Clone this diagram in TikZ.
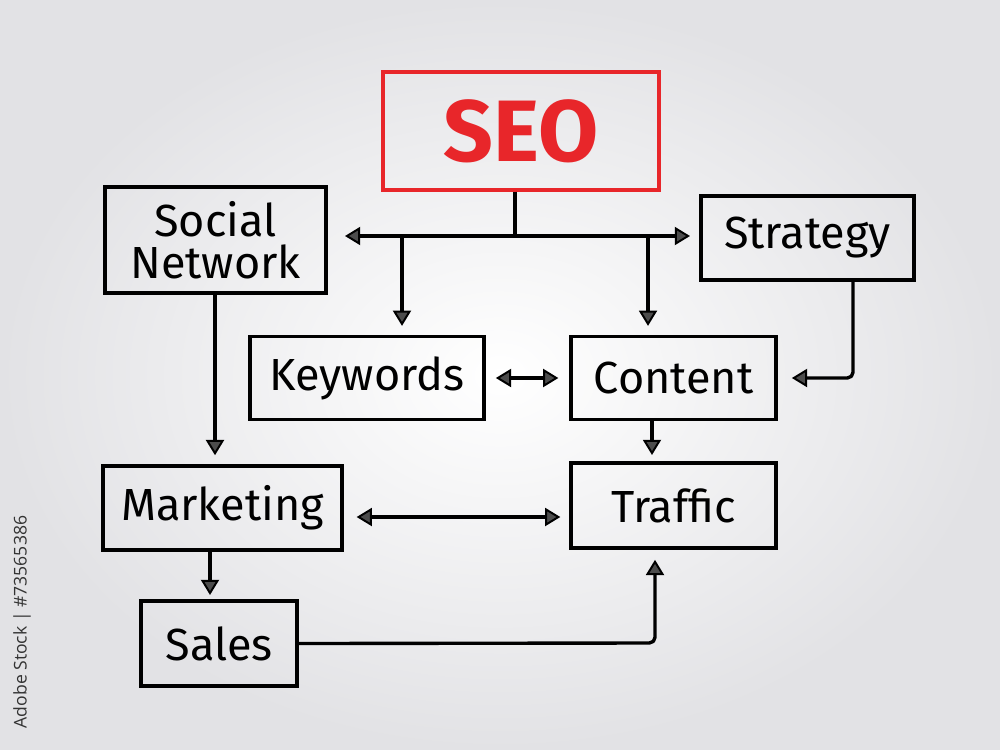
\documentclass[tikz,border=0pt]{standalone}
\usepackage{fontspec}
\setmainfont{Fira Sans}
\newfontfamily\stockfont{Open Sans}
\usetikzlibrary{arrows.meta}
\definecolor{seored}{HTML}{E8262A}
\definecolor{bggray}{HTML}{E2E2E5}
\tikzset{
    box/.style={draw=black, line width=2.6pt, inner sep=0pt, align=center,
        font=\fontsize{32}{34}\selectfont},
    seobox/.style={draw=seored, line width=2.2pt, inner sep=0pt, text=seored,
        font=\bfseries\fontsize{62}{64}\selectfont},
    link/.style={line width=2.4pt, line join=round},
    >={Triangle[length=0.38cm,width=0.45cm,fill=black!70,line width=1.4pt]}
}

\begin{document}
\begin{tikzpicture}[x=0.025cm,y=-0.025cm]
            \useasboundingbox (0,0) rectangle (1000,750);
            \shade[inner color=white, outer color=bggray] (0,0) rectangle (1000,750);

            % boxes
            \node[seobox, minimum width=6.9cm, minimum height=2.95cm] (seo) at (521,131) {SEO};
            \node[box, minimum width=5.525cm, minimum height=2.65cm] (social) at (215.5,240) {Social\\[-4pt]Network};
            \node[box, minimum width=5.325cm, minimum height=2.1cm] (strategy) at (807.5,238) {Strategy};
            \node[box, minimum width=5.85cm, minimum height=2.075cm] (keywords) at (367,378) {Keywords};
            \node[box, minimum width=5.125cm, minimum height=2.075cm] (content) at (673.5,378) {Content};
            \node[box, minimum width=5.975cm, minimum height=2.1cm] (marketing) at (222.5,508) {Marketing};
            \node[box, minimum width=5.125cm, minimum height=2.125cm] (traffic) at (673.5,505.5) {Traffic};
            \node[box, minimum width=3.9cm, minimum height=2.125cm] (sales) at (219,643.5) {Sales};

            % turning points
            \coordinate (hub) at (515,236);
            \coordinate (hubl) at (345,236);
            \coordinate (hubr) at (690,236);
            \coordinate (kw) at (402,236);
            \coordinate (ct) at (648,236);
            \coordinate (stturn) at (853,378);
            \coordinate (saturn) at (655,643);

            % connectors
            \draw[link] (hub |- seo.south) -- (hub);
            \draw[link, <->] (hubl) -- (hubr);
            \draw[link, ->, shorten >=0.22cm] (kw) -- (kw |- keywords.north);
            \draw[link, ->, shorten >=0.22cm] (ct) -- (ct |- content.north);
            \draw[link, ->, shorten >=0.35cm, rounded corners=4pt] (stturn |- strategy.south) -- (stturn) -- (content.east);
            \draw[link, <->, shorten <=0.25cm, shorten >=0.27cm] (keywords.east) -- (content.west);
            \draw[link, ->, shorten >=0.27cm] (215,293) -- (215,466);
            \draw[link, ->, shorten >=0.2cm] (652,420) -- (652,463);
            \draw[link, <->, shorten <=0.32cm, shorten >=0.22cm] (marketing.east |- 0,517) -- (traffic.west |- 0,517);
            \draw[link, ->, shorten >=0.15cm] (210,550) -- (210,601);
            \draw[link, ->, shorten >=0.25cm, rounded corners=4pt] (sales.east) -- (saturn) -- (saturn |- traffic.south);

            \node[rotate=90, text=black!80, font=\stockfont\fontsize{12.5}{14}\selectfont] (stock) at (22,622) {Adobe Stock | \#73565386};
        \end{tikzpicture}
\end{document}
